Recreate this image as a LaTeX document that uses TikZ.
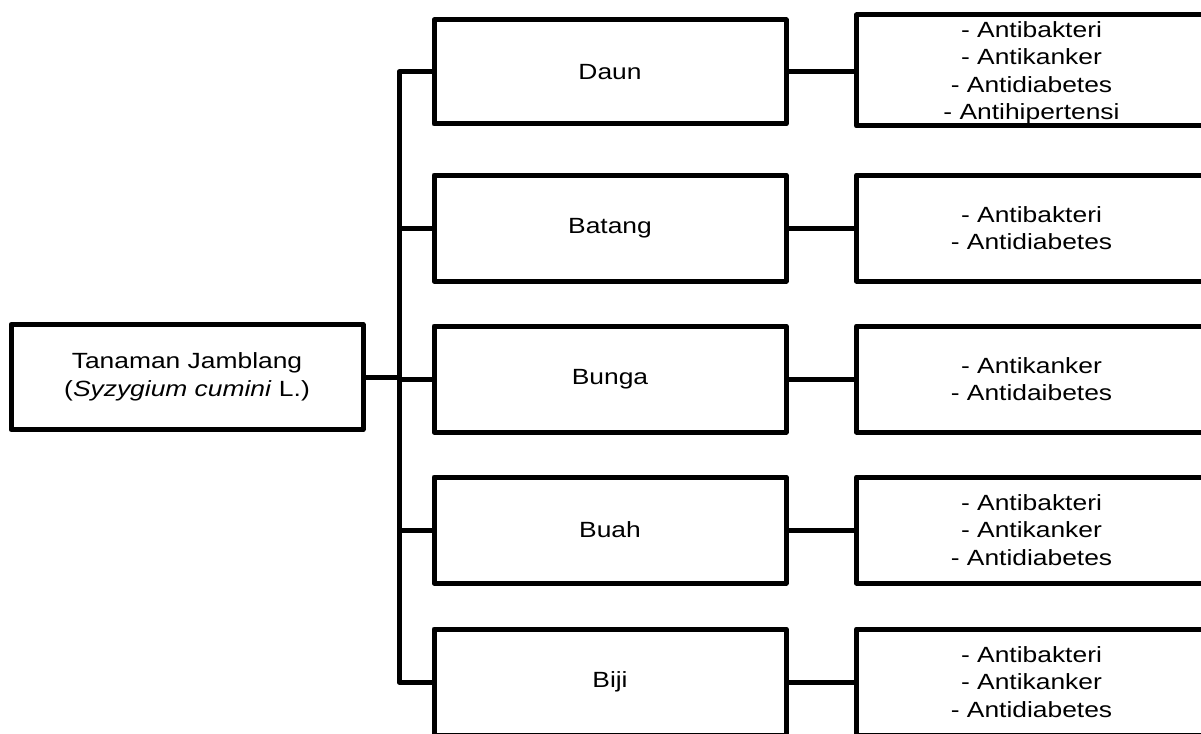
\documentclass[tikz,border=0pt]{standalone}
\usepackage{fontspec}
\setmainfont[FakeStretch=1.2]{Liberation Sans}
\begin{document}
\begin{tikzpicture}[x=1pt,y=-1pt,
  every node/.style={font=\fontsize{22}{27.6}\selectfont},
  box/.style={draw, line width=5pt, line join=round, inner sep=0pt, outer sep=0pt,
    minimum width=352pt, minimum height=106pt, align=center},
  link/.style={draw, line width=5pt, line join=round}]
\useasboundingbox (0,0) rectangle (1201,733);
\clip (0,0) rectangle (1201,733);

% root
\node[box, minimum height=105pt] (root) at (187,377) {Tanaman Jamblang\\(\textit{Syzygium cumini} L.)};

% plant parts
\node[box, minimum height=104pt] (m1) at (610,72) {Daun};
\node[box] (m2) at (610,228) {Batang};
\node[box] (m3) at (610,379) {Bunga};
\node[box] (m4) at (610,530) {Buah};
\node[box] (m5) at (610,682) {Biji};

% activities
\node[box, minimum width=350pt, minimum height=111pt, text depth=0pt] (r1) at (1031.5,70.5)
  {- Antibakteri\\- Antikanker\\- Antidiabetes\\- Antihipertensi};
\node[box, minimum width=350pt] (r2) at (1031.5,228) {- Antibakteri\\- Antidiabetes};
\node[box, minimum width=350pt] (r3) at (1031.5,379) {- Antikanker\\- Antidaibetes};
\node[box, minimum width=350pt] (r4) at (1031.5,530) {- Antibakteri\\- Antikanker\\- Antidiabetes};
\node[box, minimum width=350pt] (r5) at (1031.5,682) {- Antibakteri\\- Antikanker\\- Antidiabetes};

% tree connectors
\coordinate (spine) at (399,0);
\draw[link] (m1.west) -- (m1.west -| spine) -- (m5.west -| spine) -- (m5.west);
\draw[link] (m2.west) -- (m2.west -| spine);
\draw[link] (m3.west) -- (m3.west -| spine);
\draw[link] (m4.west) -- (m4.west -| spine);
\draw[link] (root.east) -- (root.east -| spine);

\foreach \i in {1,...,5} {
  \draw[link] (m\i.east) -- (m\i.east -| r\i.west);
}
\end{tikzpicture}
\end{document}
